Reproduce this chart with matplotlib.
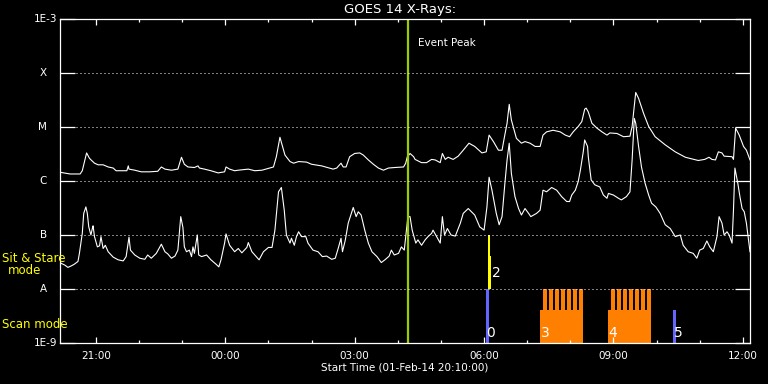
import numpy as np
import pandas as pd
import matplotlib
matplotlib.use("Agg")
import matplotlib.pyplot as plt
import matplotlib.dates as mdates
from matplotlib.ticker import NullLocator, FixedLocator

start = pd.Timestamp("2014-02-01 20:10:00")
end = pd.Timestamp("2014-02-02 12:10:00")

# GOES 14, 1-8 A channel: (minutes after start, log10 flux)
long_channel = [
    (1, -5.84), (14, -5.87), (28, -5.87), (31, -5.81), (37, -5.48), (41, -5.58), (44, -5.62),
    (48, -5.67), (53, -5.70), (60, -5.70), (67, -5.74), (74, -5.76), (78, -5.81), (90, -5.81),
    (93, -5.81), (95, -5.72), (96, -5.78), (104, -5.80), (113, -5.83), (125, -5.83), (136, -5.82),
    (141, -5.74), (146, -5.78), (155, -5.80), (164, -5.78), (169, -5.56), (173, -5.69), (178, -5.74),
    (187, -5.75), (192, -5.72), (194, -5.76), (201, -5.78), (210, -5.81), (220, -5.85), (229, -5.83),
    (231, -5.74), (236, -5.78), (243, -5.81), (248, -5.80), (262, -5.78), (271, -5.81), (281, -5.80),
    (292, -5.76), (297, -5.74), (301, -5.55), (306, -5.19), (313, -5.52), (320, -5.64), (325, -5.67),
    (332, -5.64), (343, -5.65), (350, -5.69), (364, -5.72), (380, -5.78), (385, -5.76), (391, -5.67),
    (394, -5.74), (398, -5.74), (403, -5.55), (410, -5.49), (417, -5.48), (422, -5.52), (429, -5.61),
    (436, -5.69), (443, -5.76), (450, -5.80), (457, -5.76), (466, -5.75), (478, -5.74), (481, -5.67),
    (483, -5.56), (487, -5.49), (492, -5.55), (494, -5.60), (503, -5.66), (510, -5.66), (517, -5.60),
    (522, -5.61), (529, -5.66), (532, -5.49), (536, -5.60), (540, -5.56), (547, -5.60), (554, -5.54),
    (561, -5.43), (569, -5.30), (577, -5.36), (587, -5.48), (593, -5.46), (597, -5.15), (603, -5.27),
    (610, -5.43), (615, -5.43), (618, -5.21), (622, -4.93), (625, -4.58), (628, -4.87), (635, -5.21),
    (642, -5.30), (647, -5.27), (654, -5.30), (661, -5.36), (668, -5.36), (672, -5.15), (677, -5.09),
    (686, -5.06), (696, -5.09), (703, -5.15), (709, -5.18), (714, -5.09), (721, -4.99), (726, -4.90),
    (730, -4.67), (732, -4.65), (735, -4.72), (740, -4.93), (747, -5.02), (754, -5.09), (761, -5.15),
    (765, -5.11), (775, -5.12), (784, -5.18), (793, -5.17), (796, -4.99), (801, -4.36), (805, -4.47),
    (812, -4.75), (819, -4.99), (828, -5.18), (842, -5.33), (856, -5.46), (870, -5.56), (888, -5.62),
    (897, -5.60), (903, -5.56), (907, -5.60), (912, -5.61), (916, -5.46), (921, -5.48), (924, -5.54),
    (935, -5.55), (937, -5.60), (940, -5.02), (945, -5.15), (951, -5.36), (955, -5.43), (960, -5.61),
]

# GOES 14, 0.5-4 A channel
short_channel = [
    (1, -7.52), (7, -7.56), (11, -7.60), (16, -7.57), (20, -7.54), (25, -7.49), (27, -7.34),
    (31, -6.97), (33, -6.60), (36, -6.48), (38, -6.60), (40, -6.85), (43, -7.00), (45, -6.88),
    (46, -6.83), (48, -7.03), (52, -7.22), (55, -7.20), (57, -7.03), (60, -7.25), (63, -7.19),
    (67, -7.31), (74, -7.41), (81, -7.46), (88, -7.48), (92, -7.40), (96, -7.04), (98, -7.28),
    (104, -7.37), (111, -7.43), (118, -7.45), (122, -7.37), (127, -7.43), (134, -7.34), (141, -7.17),
    (146, -7.31), (150, -7.35), (155, -7.43), (160, -7.39), (164, -7.28), (168, -6.66), (171, -6.86),
    (173, -7.22), (176, -7.31), (180, -7.28), (183, -7.40), (185, -7.22), (187, -7.34), (191, -7.00),
    (193, -7.37), (197, -7.40), (204, -7.37), (210, -7.46), (217, -7.54), (221, -7.59), (224, -7.46),
    (229, -7.15), (231, -6.98), (236, -7.19), (243, -7.31), (248, -7.25), (253, -7.33), (260, -7.23),
    (262, -7.14), (267, -7.31), (271, -7.37), (277, -7.46), (283, -7.31), (290, -7.23), (295, -7.23),
    (299, -6.91), (304, -6.20), (308, -6.12), (312, -6.54), (315, -7.00), (320, -7.15), (322, -7.06),
    (326, -7.19), (329, -7.03), (332, -6.94), (336, -7.03), (342, -7.03), (345, -7.15), (352, -7.28),
    (359, -7.31), (365, -7.40), (371, -7.39), (378, -7.45), (383, -7.43), (387, -7.25), (391, -7.06),
    (393, -7.31), (397, -7.09), (401, -6.78), (406, -6.57), (408, -6.49), (412, -6.66), (415, -6.57),
    (419, -6.63), (424, -6.91), (429, -7.15), (434, -7.31), (441, -7.40), (447, -7.51), (452, -7.46),
    (458, -7.39), (461, -7.28), (465, -7.37), (471, -7.34), (475, -7.22), (479, -7.28), (481, -7.03),
    (484, -6.66), (487, -6.66), (490, -6.91), (495, -7.15), (498, -7.09), (503, -7.19), (508, -7.09),
    (512, -7.03), (517, -6.97), (519, -6.91), (524, -7.03), (529, -7.15), (532, -6.66), (535, -7.00),
    (539, -6.88), (544, -7.00), (550, -7.02), (557, -6.78), (561, -6.60), (568, -6.51), (577, -6.63),
    (584, -6.85), (590, -6.91), (594, -6.48), (597, -5.93), (601, -6.17), (607, -6.60), (611, -6.81),
    (615, -6.66), (619, -6.04), (622, -5.61), (625, -5.30), (628, -5.86), (633, -6.29), (638, -6.51),
    (642, -6.63), (647, -6.51), (652, -6.60), (655, -6.66), (663, -6.60), (668, -6.54), (672, -6.17),
    (677, -6.20), (684, -6.12), (691, -6.17), (698, -6.29), (705, -6.38), (709, -6.38), (712, -6.26),
    (717, -6.17), (721, -6.01), (724, -5.80), (728, -5.46), (730, -5.24), (734, -5.36), (735, -5.55),
    (739, -5.98), (744, -6.07), (751, -6.11), (756, -6.26), (761, -6.32), (763, -6.23), (770, -6.26),
    (777, -6.32), (781, -6.35), (788, -6.29), (793, -6.20), (796, -5.61), (799, -4.84), (801, -4.93),
    (805, -5.36), (809, -5.74), (814, -6.04), (819, -6.26), (823, -6.41), (829, -6.48), (835, -6.60),
    (842, -6.81), (849, -6.88), (856, -7.03), (863, -7.00), (867, -7.19), (874, -7.31), (881, -7.34),
    (886, -7.43), (890, -7.28), (895, -7.25), (900, -7.11), (904, -7.22), (909, -7.31), (914, -7.03),
    (917, -6.66), (921, -6.78), (924, -7.00), (928, -6.94), (931, -7.00), (935, -7.15), (937, -6.54),
    (939, -5.76), (943, -6.04), (946, -6.29), (949, -6.51), (952, -6.57), (955, -6.78), (960, -7.31),
]

event_peak = "2014-02-02 04:14"

# observations: start, end, bottom flux, top flux, colour
obs_start = ["06:02:40", "06:05:30", "06:08:20", "07:18:00", "08:52:30", "10:22:50"]
obs_end = ["06:06:50", "06:08:20", "06:09:40", "08:18:00", "09:52:20", "10:27:00"]
obs_bottom = [1e-9, 1e-8, 1e-8, 1e-9, 1e-9, 1e-9]
obs_top = [1e-8, 1e-7, 4e-8, 4e-9, 4e-9, 4e-9]
obs_color = ["#6464ff", "#ffff00", "#ffff00", "#ff8000", "#ff8000", "#6464ff"]

# raster steps inside the two scan blocks
raster_start = ["07:22:00", "07:30:20", "07:38:40", "07:47:00", "07:55:20", "08:03:40", "08:12:00",
                "08:56:40", "09:05:00", "09:13:20", "09:21:40", "09:30:00", "09:38:20", "09:46:40"]
raster_minutes = 5.6

obs_label = ["0", "2", "3", "4", "5"]
obs_label_time = ["06:03:30", "06:10:30", "07:19:00", "08:53:00", "10:23:30"]
obs_label_flux = [1.5e-9, 2.0e-8, 1.5e-9, 1.5e-9, 1.5e-9]

levels = [1e-9, 1e-8, 1e-7, 1e-6, 1e-5, 1e-4, 1e-3]
level_names = ["1E-9", "A", "B", "C", "M", "X", "1E-3"]


def to_num(minutes):
    return mdates.date2num((start + pd.to_timedelta(minutes, unit="m")).to_numpy())


def day2(hms):
    return mdates.date2num(pd.Timestamp("2014-02-02 " + hms))


fig = plt.figure(figsize=(7.68, 3.84), dpi=100, facecolor="black")
ax = fig.add_axes([60 / 768, 1 - 343 / 384, 690 / 768, 324 / 384])
ax.set_facecolor("black")

lm, ll = zip(*long_channel)
sm, sl = zip(*short_channel)
ax.plot(to_num(np.array(lm)), 10 ** np.array(ll), color="white", lw=0.8)
ax.plot(to_num(np.array(sm)), 10 ** np.array(sl), color="white", lw=0.8)

for s, e, b, t, c in zip(obs_start, obs_end, obs_bottom, obs_top, obs_color):
    ax.bar(day2(s), t - b, bottom=b, width=day2(e) - day2(s), align="edge", color=c, lw=0)
for s in raster_start:
    ax.bar(day2(s), 1e-8 - 1e-9, bottom=1e-9, width=raster_minutes / 1440, align="edge",
           color="#ff8000", lw=0)

for lab, t, f in zip(obs_label, obs_label_time, obs_label_flux):
    ax.text(day2(t), f, lab, color="white", fontsize=10, ha="left", va="center")

ep = mdates.date2num(pd.Timestamp(event_peak))
ax.axvline(ep, color="#9acd00", lw=1.6)
ax.annotate("Event Peak", xy=(ep, 1e-3), xytext=(10, -24), textcoords="offset pixels",
            color="white", fontsize=7.5, ha="left", va="center")

for lv in levels[1:-1]:
    ax.axhline(lv, color="white", lw=0.72, dashes=(1, 3))

ax.set_yscale("log")
ax.set_ylim(1e-9, 1e-3)
ax.set_xlim(mdates.date2num(start), mdates.date2num(end))

ax.yaxis.set_major_locator(FixedLocator(levels))
ax.yaxis.set_minor_locator(NullLocator())
ax.set_yticklabels([])
ax.tick_params(axis="y", which="major", direction="in", length=10.5, width=0.9,
               color="white", left=True, right=True)
for lv, name in zip(levels, level_names):
    off = -3 if name.startswith("1E") else -13
    ax.annotate(name, xy=(0, lv), xycoords=ax.get_yaxis_transform(), xytext=(off, 0),
                textcoords="offset pixels", color="white", fontsize=7.5, ha="right", va="center")

ax.xaxis.set_major_locator(mdates.HourLocator(byhour=range(0, 24, 3)))
ax.xaxis.set_minor_locator(mdates.HourLocator())
ax.xaxis.set_major_formatter(mdates.DateFormatter("%H:%M"))
ax.tick_params(axis="x", which="major", direction="in", length=4.5, width=0.9, color="white",
               labelcolor="white", labelsize=7.5, pad=6, top=True, bottom=True)
ax.tick_params(axis="x", which="minor", direction="in", length=2.2, width=0.9, color="white",
               top=True, bottom=True)

for sp in ax.spines.values():
    sp.set_color("white")
    sp.set_linewidth(0.9)

fig.text(400 / 768, 1 - 10 / 384, "GOES 14 X-Rays:", color="white", fontsize=9.5,
         ha="center", va="center")
fig.text(405 / 768, 1 - 368 / 384, "Start Time (01-Feb-14 20:10:00)", color="white",
         fontsize=7.5, ha="center", va="center")
fig.text(2 / 768, 1 - 259 / 384, "Sit & Stare", color="yellow", fontsize=8.5, ha="left", va="center")
fig.text(25 / 768, 1 - 271 / 384, "mode", color="yellow", fontsize=8.5, ha="center", va="center")
fig.text(2 / 768, 1 - 324 / 384, "Scan mode", color="yellow", fontsize=8.5, ha="left", va="center")

fig.savefig("out.png", dpi=100, facecolor="black")
